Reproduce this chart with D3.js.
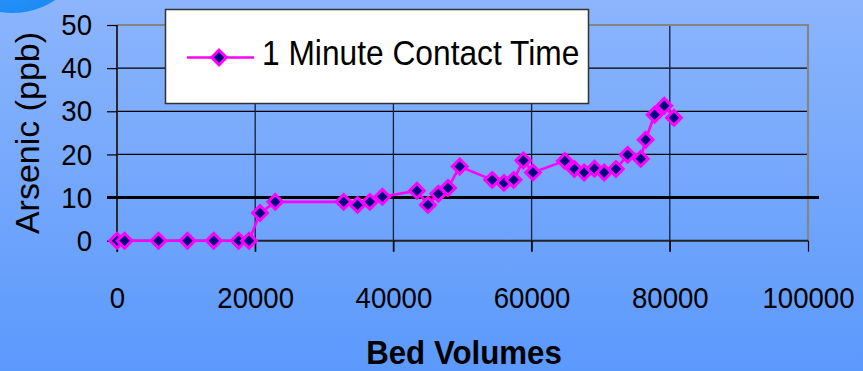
<!DOCTYPE html>
<html>
<head>
<meta charset="utf-8">
<script src="https://cdn.jsdelivr.net/npm/d3@7"></script>
<style>
  html, body { margin: 0; padding: 0; background: #6fa3fc; }
  svg { display: block; }
  text { font-family: "Liberation Sans", Arial, sans-serif; fill: #000; }
</style>
</head>
<body>
<svg id="chart" width="863" height="371"></svg>
<script>
// Breakthrough data: bed volumes treated vs. arsenic in effluent
const bedVolumes = [0, 1100, 6000, 10200, 14000, 17600, 19100, 20700, 22900, 32800,
  34800, 36600, 38400, 43400, 45000, 46500, 47900, 49600, 54300, 56000,
  57400, 58800, 60200, 64800, 66200, 67600, 69100, 70500, 72200, 73900,
  75800, 76500, 77800, 79200, 80600];
const arsenicPpb = [0, 0, 0, 0, 0, 0, 0, 6.4, 9.0, 9.0,
  8.3, 9.0, 10.2, 11.6, 8.3, 10.9, 12.2, 17.2, 14.1, 13.4,
  14.1, 18.6, 15.8, 18.5, 16.6, 15.8, 16.7, 15.8, 16.6, 19.9,
  19.0, 23.4, 29.2, 31.3, 28.5];
const xTicks = [0, 20000, 40000, 60000, 80000, 100000];
const yTicks = [0, 10, 20, 30, 40, 50];
const seriesName = "1 Minute Contact Time";
const mcl = 10; // regulatory limit line, ppb

const svg = d3.select("#chart");
const W = 863, H = 371;
const squeeze = 0.92;

// background gradient
const defs = svg.append("defs");
const bg = defs.append("linearGradient").attr("id", "bg").attr("x1", 0).attr("y1", 0).attr("x2", 0).attr("y2", 1);
bg.append("stop").attr("offset", "0%").attr("stop-color", "#8cb5fc");
bg.append("stop").attr("offset", "100%").attr("stop-color", "#5b99fc");
const orb = defs.append("radialGradient").attr("id", "orb").attr("cx", "45%").attr("cy", "60%").attr("r", "60%");
orb.append("stop").attr("offset", "0%").attr("stop-color", "#3aa0ff");
orb.append("stop").attr("offset", "85%").attr("stop-color", "#1786f2");
orb.append("stop").attr("offset", "100%").attr("stop-color", "#2c8ef0");

svg.append("rect").attr("width", W).attr("height", H).attr("fill", "url(#bg)");
svg.append("circle").attr("cx", 12).attr("cy", -66).attr("r", 79).attr("fill", "url(#orb)");

const x = d3.scaleLinear().domain([0, 100000]).range([117, 808]);
const y = d3.scaleLinear().domain([0, 50]).range([240.7, 25]);

const g = svg.append("g");

// horizontal gridlines
g.selectAll("line.hg").data(yTicks.filter(t => t > 0 && t < 50 && t !== mcl)).join("line")
  .attr("x1", x(0)).attr("x2", x(100000))
  .attr("y1", d => y(d)).attr("y2", d => y(d))
  .attr("stroke", "#000").attr("stroke-width", 1.2);

// vertical gridlines (extend below axis as ticks)
g.selectAll("line.vg").data(xTicks.filter(t => t > 0 && t < 100000)).join("line")
  .attr("x1", d => x(d)).attr("x2", d => x(d))
  .attr("y1", y(50)).attr("y2", y(0) + 11)
  .attr("stroke", "#14203a").attr("stroke-width", 1.3);

// plot border: top and right in gray
g.append("path")
  .attr("d", `M${x(0)},${y(50)}H${x(100000)}V${y(0)}`)
  .attr("fill", "none").attr("stroke", "#858585").attr("stroke-width", 2.2);

// axes drawn through d3 axis generators
const yAxis = d3.axisLeft(y).tickValues(yTicks).tickSize(10).tickPadding(14);
const xAxis = d3.axisBottom(x).tickValues(xTicks).tickSize(11).tickPadding(34).tickFormat(d3.format("d"));

const ya = svg.append("g").attr("transform", `translate(${x(0)},0)`).call(yAxis);
ya.select(".domain").attr("d", `M0,${y(50)}V${y(0) + 11}`).attr("stroke", "#2a2a2a").attr("stroke-width", 2);
ya.selectAll(".tick line").attr("stroke", "#000").attr("stroke-width", 1.2);
ya.selectAll(".tick text")
  .attr("font-size", 30).attr("font-family", "Liberation Sans, Arial, sans-serif")
  .attr("fill", "#000")
  .attr("transform", `scale(${squeeze},1)`)
  .attr("x", -25 / squeeze);

const xa = svg.append("g").attr("transform", `translate(0,${y(0)})`).call(xAxis);
xa.select(".domain").attr("d", `M${x(0)},0H${x(100000)}`).attr("stroke", "#222").attr("stroke-width", 2);
xa.selectAll(".tick line").attr("stroke", "#000").attr("stroke-width", 1.2);
xa.selectAll(".tick text")
  .attr("font-size", 30).attr("font-family", "Liberation Sans, Arial, sans-serif")
  .attr("fill", "#000")
  .attr("dy", 0).attr("y", 67)
  .attr("transform", `scale(${squeeze},1)`);

// limit line
svg.append("line")
  .attr("x1", x(0) - 10).attr("x2", x(100000) + 11)
  .attr("y1", y(mcl)).attr("y2", y(mcl))
  .attr("stroke", "#000").attr("stroke-width", 3);

// series line
const pts = bedVolumes.map((v, i) => [v, arsenicPpb[i]]);
svg.append("path")
  .datum(pts)
  .attr("fill", "none").attr("stroke", "#ff00ff").attr("stroke-width", 2.6)
  .attr("d", d3.line().x(d => x(d[0])).y(d => y(d[1])));

// diamond markers
const diamond = d3.symbol().type(d3.symbolSquare).size(108);
svg.selectAll("path.mk").data(pts).join("path")
  .attr("class", "mk")
  .attr("d", diamond)
  .attr("transform", d => `translate(${x(d[0])},${y(d[1])}) rotate(45)`)
  .attr("fill", "#000080").attr("stroke", "#ff00ff").attr("stroke-width", 3);

// legend
const lg = svg.append("g");
lg.append("rect").attr("x", 165.5).attr("y", 9.5).attr("width", 423).attr("height", 94)
  .attr("fill", "#fff").attr("stroke", "#333").attr("stroke-width", 1.5);
lg.append("line").attr("x1", 187).attr("x2", 254).attr("y1", 57.5).attr("y2", 57.5)
  .attr("stroke", "#ff00ff").attr("stroke-width", 2.6);
lg.append("path").attr("d", diamond)
  .attr("transform", "translate(219,57.5) rotate(45)")
  .attr("fill", "#000080").attr("stroke", "#ff00ff").attr("stroke-width", 3);
lg.append("text").attr("transform", `translate(262,65) scale(${squeeze},1)`)
  .attr("font-size", 34.5).text(seriesName);

// axis titles
svg.append("text")
  .attr("transform", "translate(39,133) rotate(-90)")
  .attr("text-anchor", "middle").attr("font-size", 34)
  .text("Arsenic (ppb)");
svg.append("text")
  .attr("transform", `translate(464,364) scale(${squeeze},1)`)
  .attr("text-anchor", "middle").attr("font-size", 34).attr("font-weight", "bold")
  .text("Bed Volumes");
</script>
</body>
</html>
